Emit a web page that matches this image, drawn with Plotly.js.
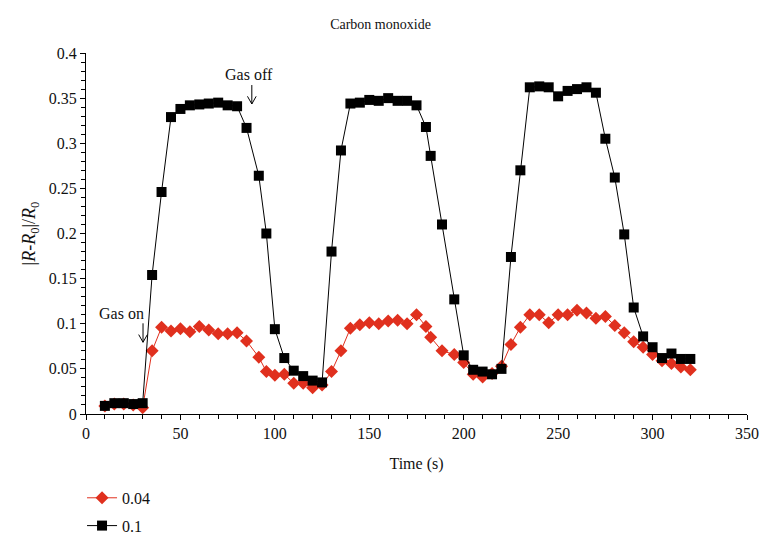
<!DOCTYPE html>
<html>
<head>
<meta charset="utf-8">
<script src="https://cdn.plot.ly/plotly-3.0.1.min.js"></script>
<style>html,body{margin:0;padding:0;background:#fff;}#chart{width:761px;height:544px;}</style>
</head>
<body>
<div id="chart"></div>
<script>
var timeS = [10,15,20,25,30,35,40,45,50,55,60,65,70,75,80,85,91.5,95.5,100,105,110,115,120,125,130,135,140,145,150,155,160,165,170,175,180,182.5,188.5,195,200,205,210,215,220,225,230,235,240,245,250,255,260,265,270,275,280,285,290,295,300,305,310,315,320];
var conc004 = [0.009,0.011,0.011,0.010,0.007,0.070,0.096,0.092,0.0945,0.091,0.097,0.093,0.089,0.089,0.090,0.081,0.063,0.047,0.043,0.044,0.034,0.034,0.029,0.032,0.047,0.070,0.095,0.099,0.101,0.100,0.103,0.104,0.100,0.110,0.097,0.085,0.070,0.066,0.057,0.044,0.041,0.045,0.053,0.077,0.096,0.110,0.110,0.101,0.110,0.110,0.115,0.112,0.106,0.108,0.098,0.090,0.080,0.074,0.066,0.059,0.056,0.052,0.049];
var conc01 = [0.009,0.012,0.012,0.011,0.012,0.154,0.246,0.329,0.338,0.342,0.343,0.344,0.345,0.342,0.341,0.317,0.264,0.200,0.094,0.062,0.048,0.042,0.037,0.035,0.180,0.292,0.344,0.345,0.348,0.347,0.350,0.347,0.347,0.342,0.318,0.286,0.210,0.127,0.065,0.049,0.047,0.044,0.050,0.174,0.270,0.362,0.363,0.362,0.352,0.358,0.360,0.362,0.356,0.305,0.262,0.199,0.118,0.086,0.074,0.062,0.067,0.061,0.061];
var seriesNames = ['0.04','0.1'];
var xTicks = [0,50,100,150,200,250,300,350];
var yTicks = [0,0.05,0.1,0.15,0.2,0.25,0.3,0.35,0.4];
var yTickText = ['0','0.05','0.1','0.15','0.2','0.25','0.3','0.35','0.4'];
// arrow annotations: x, tip, tail
var gasOn = {x: 30.2, tip: 0.0795, tail: 0.1005};
var gasOff = {x: 87.8, tip: 0.3435, tail: 0.3645};

var serif = 'Liberation Serif, Times New Roman, serif';
var red = '#e0301e';

var traces = [
  {x: timeS, y: conc004, name: seriesNames[0], type: 'scatter', mode: 'lines+markers', legendgroup: 'a',
   line: {color: red, width: 1}, marker: {symbol: 'diamond', size: 10, color: red}},
  {x: timeS, y: conc01, name: seriesNames[1], type: 'scatter', mode: 'lines+markers', legendgroup: 'b',
   line: {color: '#000', width: 1}, marker: {symbol: 'square', size: 10, color: '#000'}}
];

function arrowShapes(a) {
  var hx = 2.3, hy = 0.0085;
  return [
    {type: 'line', xref: 'x', yref: 'y', x0: a.x, x1: a.x, y0: a.tip, y1: a.tail, line: {color: '#000', width: 1}},
    {type: 'path', xref: 'x', yref: 'y', path: 'M' + (a.x - hx) + ',' + (a.tip + hy) + ' L' + a.x + ',' + a.tip + ' L' + (a.x + hx) + ',' + (a.tip + hy), line: {color: '#000', width: 1}}
  ];
}

var pad = '\u00A0'.repeat(16);

var layout = {
  width: 761, height: 544,
  margin: {l: 86, r: 14, t: 53, b: 130},
  paper_bgcolor: '#fff', plot_bgcolor: '#fff',
  font: {family: serif, size: 16, color: '#111'},
  title: {text: 'Carbon monoxide', x: 0.5, xref: 'container', xanchor: 'center', y: 0.965, yref: 'container', font: {family: serif, size: 14, color: '#111'}},
  xaxis: {
    range: [0, 350], tickvals: xTicks, ticktext: xTicks.map(String), automargin: false,
    showgrid: false, zeroline: false, showline: true, linecolor: '#000', linewidth: 1,
    ticks: 'outside', ticklen: 5, tickcolor: '#000',
    minor: {dtick: 10, ticks: 'outside', ticklen: 4, tickcolor: '#000', showgrid: false},
    tickfont: {family: serif, size: 16, color: '#111'},
    title: {text: 'Time (s)', font: {family: serif, size: 16, color: '#111'}, standoff: 16}
  },
  yaxis: {
    range: [0, 0.4], tickvals: yTicks, ticktext: yTickText, automargin: false,
    showgrid: false, zeroline: false, showline: true, linecolor: '#000', linewidth: 1,
    ticks: 'outside', ticklen: 5, tickcolor: '#000',
    minor: {dtick: 0.01, ticks: 'outside', ticklen: 4, tickcolor: '#000', showgrid: false},
    tickfont: {family: serif, size: 16, color: '#111'},
    title: {text: pad + '|<i>R</i>-<i>R</i><sub>0</sub>|/<i>R</i><sub>0</sub>', font: {family: serif, size: 18, color: '#111'}, standoff: 8}
  },
  showlegend: true,
  legend: {x: -0.006, xanchor: 'left', xref: 'paper', y: 0.116, yref: 'container', yanchor: 'top', traceorder: 'grouped', tracegroupgap: 4,
    font: {family: serif, size: 16, color: '#111'}, bgcolor: 'rgba(0,0,0,0)'},
  shapes: arrowShapes(gasOn).concat(arrowShapes(gasOff)),
  annotations: [
    {x: 19, y: 0.1115, xref: 'x', yref: 'y', text: 'Gas on', showarrow: false, font: {family: serif, size: 16, color: '#111'}},
    {x: 86.5, y: 0.376, xref: 'x', yref: 'y', text: 'Gas off', showarrow: false, font: {family: serif, size: 16, color: '#111'}}
  ]
};

Plotly.newPlot('chart', traces, layout, {displayModeBar: false, staticPlot: true});
</script>
</body>
</html>
